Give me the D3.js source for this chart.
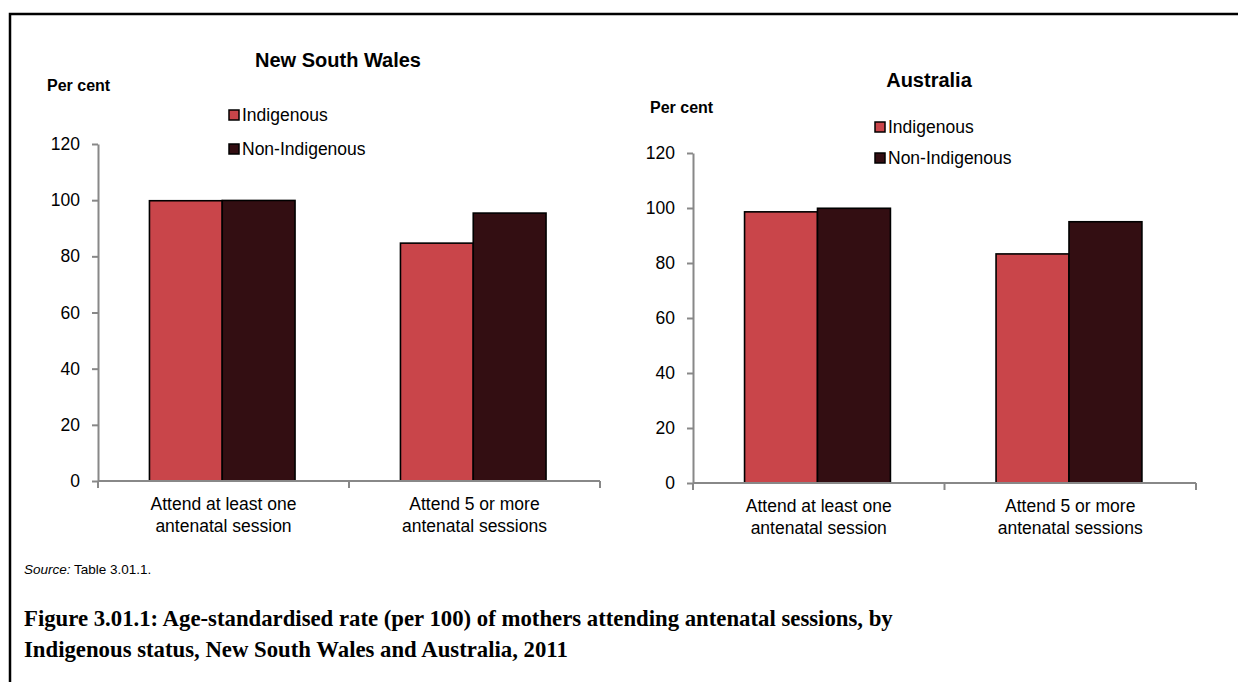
<!DOCTYPE html>
<html><head><meta charset="utf-8">
<script src="https://cdn.jsdelivr.net/npm/d3@7"></script>
<style>body{margin:0;background:#fff}svg{display:block}</style>
</head><body>
<svg id="c" width="1238" height="682"></svg>
<script>
const categories = [["Attend at least one","antenatal session"],["Attend 5 or more","antenatal sessions"]];
const seriesNames = ["Indigenous","Non-Indigenous"];
const seriesColors = ["#C9454A","#330E12"];
const nswIndigenous = [99.8, 84.7];
const nswNonIndigenous = [99.9, 95.4];
const ausIndigenous = [98.6, 83.3];
const ausNonIndigenous = [99.9, 95.0];
const yTicks = [0,20,40,60,80,100,120];

const svg = d3.select("#c");
const font = "Liberation Sans, Arial, sans-serif";

// frame
svg.append("path").attr("d","M10,682 V14 H1238").attr("fill","none").attr("stroke","#000").attr("stroke-width",2.5);

function panel(opts){
  const g = svg.append("g");
  const y = d3.scaleLinear().domain([0,120]).range([opts.y0, opts.y120]);
  const x = d3.scaleBand().domain([0,1]).range([opts.x0, opts.x1]).paddingInner(0).paddingOuter(0);
  const vals = [opts.a, opts.b];
  vals.forEach((arr, si) => {
    g.selectAll(null).data(arr).enter().append("rect")
      .attr("x", (d,i) => x(i) + x.bandwidth()*0.205 + si * x.bandwidth()*0.29)
      .attr("width", x.bandwidth()*0.29)
      .attr("y", d => y(d))
      .attr("height", d => y(0) - y(d))
      .attr("fill", seriesColors[si]).attr("stroke","#000").attr("stroke-width",1.6);
  });
  const ya = g.append("g").attr("transform",`translate(${opts.x0},0)`)
    .call(d3.axisLeft(y).tickValues(yTicks).tickSize(6).tickSizeOuter(0).tickPadding(12));
  ya.select(".domain").attr("stroke","#888").attr("stroke-width",2);
  ya.selectAll(".tick line").attr("stroke","#888").attr("stroke-width",2);
  ya.selectAll("text").attr("font-family",font).attr("font-size",17.5).attr("fill","#000");
  const xa = g.append("g").attr("transform",`translate(0,${opts.y0})`);
  xa.append("line").attr("x1",opts.x0).attr("x2",opts.x1).attr("y1",0).attr("y2",0).attr("stroke","#888").attr("stroke-width",2);
  [opts.x0, x(1), opts.x1].forEach(t => xa.append("line").attr("x1",t).attr("x2",t).attr("y1",0).attr("y2",7).attr("stroke","#888").attr("stroke-width",2));
  categories.forEach((lines,i) => {
    lines.forEach((l,j) => {
      xa.append("text").attr("x", x(i)+x.bandwidth()/2).attr("y", 29 + j*22)
        .attr("text-anchor","middle").attr("font-family",font).attr("font-size",17.5).text(l);
    });
  });
  g.append("text").attr("x",opts.tx).attr("y",opts.ty).attr("text-anchor","middle")
    .attr("font-family",font).attr("font-weight","bold").attr("font-size",20).text(opts.title);
  g.append("text").attr("x",opts.px).attr("y",opts.py)
    .attr("font-family",font).attr("font-weight","bold").attr("font-size",16).text("Per cent");
  seriesNames.forEach((n,i) => {
    const ly = opts.ly + i*opts.lgap;
    g.append("rect").attr("x",opts.lx).attr("y",ly-11).attr("width",10).attr("height",10)
      .attr("fill",seriesColors[i]).attr("stroke","#000").attr("stroke-width",1.5);
    g.append("text").attr("x",opts.lx+13).attr("y",ly).attr("font-family",font).attr("font-size",17.5).text(n);
  });
}

panel({x0:98, x1:600, y0:481, y120:144, a:nswIndigenous, b:nswNonIndigenous,
  title:"New South Wales", tx:338, ty:67, px:47, py:91, lx:229, ly:121, lgap:34});
panel({x0:693, x1:1196, y0:483, y120:153, a:ausIndigenous, b:ausNonIndigenous,
  title:"Australia", tx:929, ty:87, px:650, py:113, lx:875, ly:133, lgap:31});

const src = svg.append("text").attr("x",24).attr("y",574).attr("font-family",font).attr("font-size",13.5);
src.append("tspan").attr("font-style","italic").text("Source:");
src.append("tspan").text(" Table 3.01.1.");

const capFont = "Liberation Serif, serif";
const capLines = ["Figure 3.01.1: Age-standardised rate (per 100) of mothers attending antenatal sessions, by",
 "Indigenous status, New South Wales and Australia, 2011"];
const caps = capLines.map((t,i) => svg.append("text").attr("x",24).attr("y",626 + i*31).attr("font-family",capFont)
    .attr("font-weight","bold").attr("font-size",20).text(t));
const w = caps[0].node().getComputedTextLength();
const fs = 20 * 869 / w;
caps.forEach(c => c.attr("font-size", fs));
</script>
</body></html>
